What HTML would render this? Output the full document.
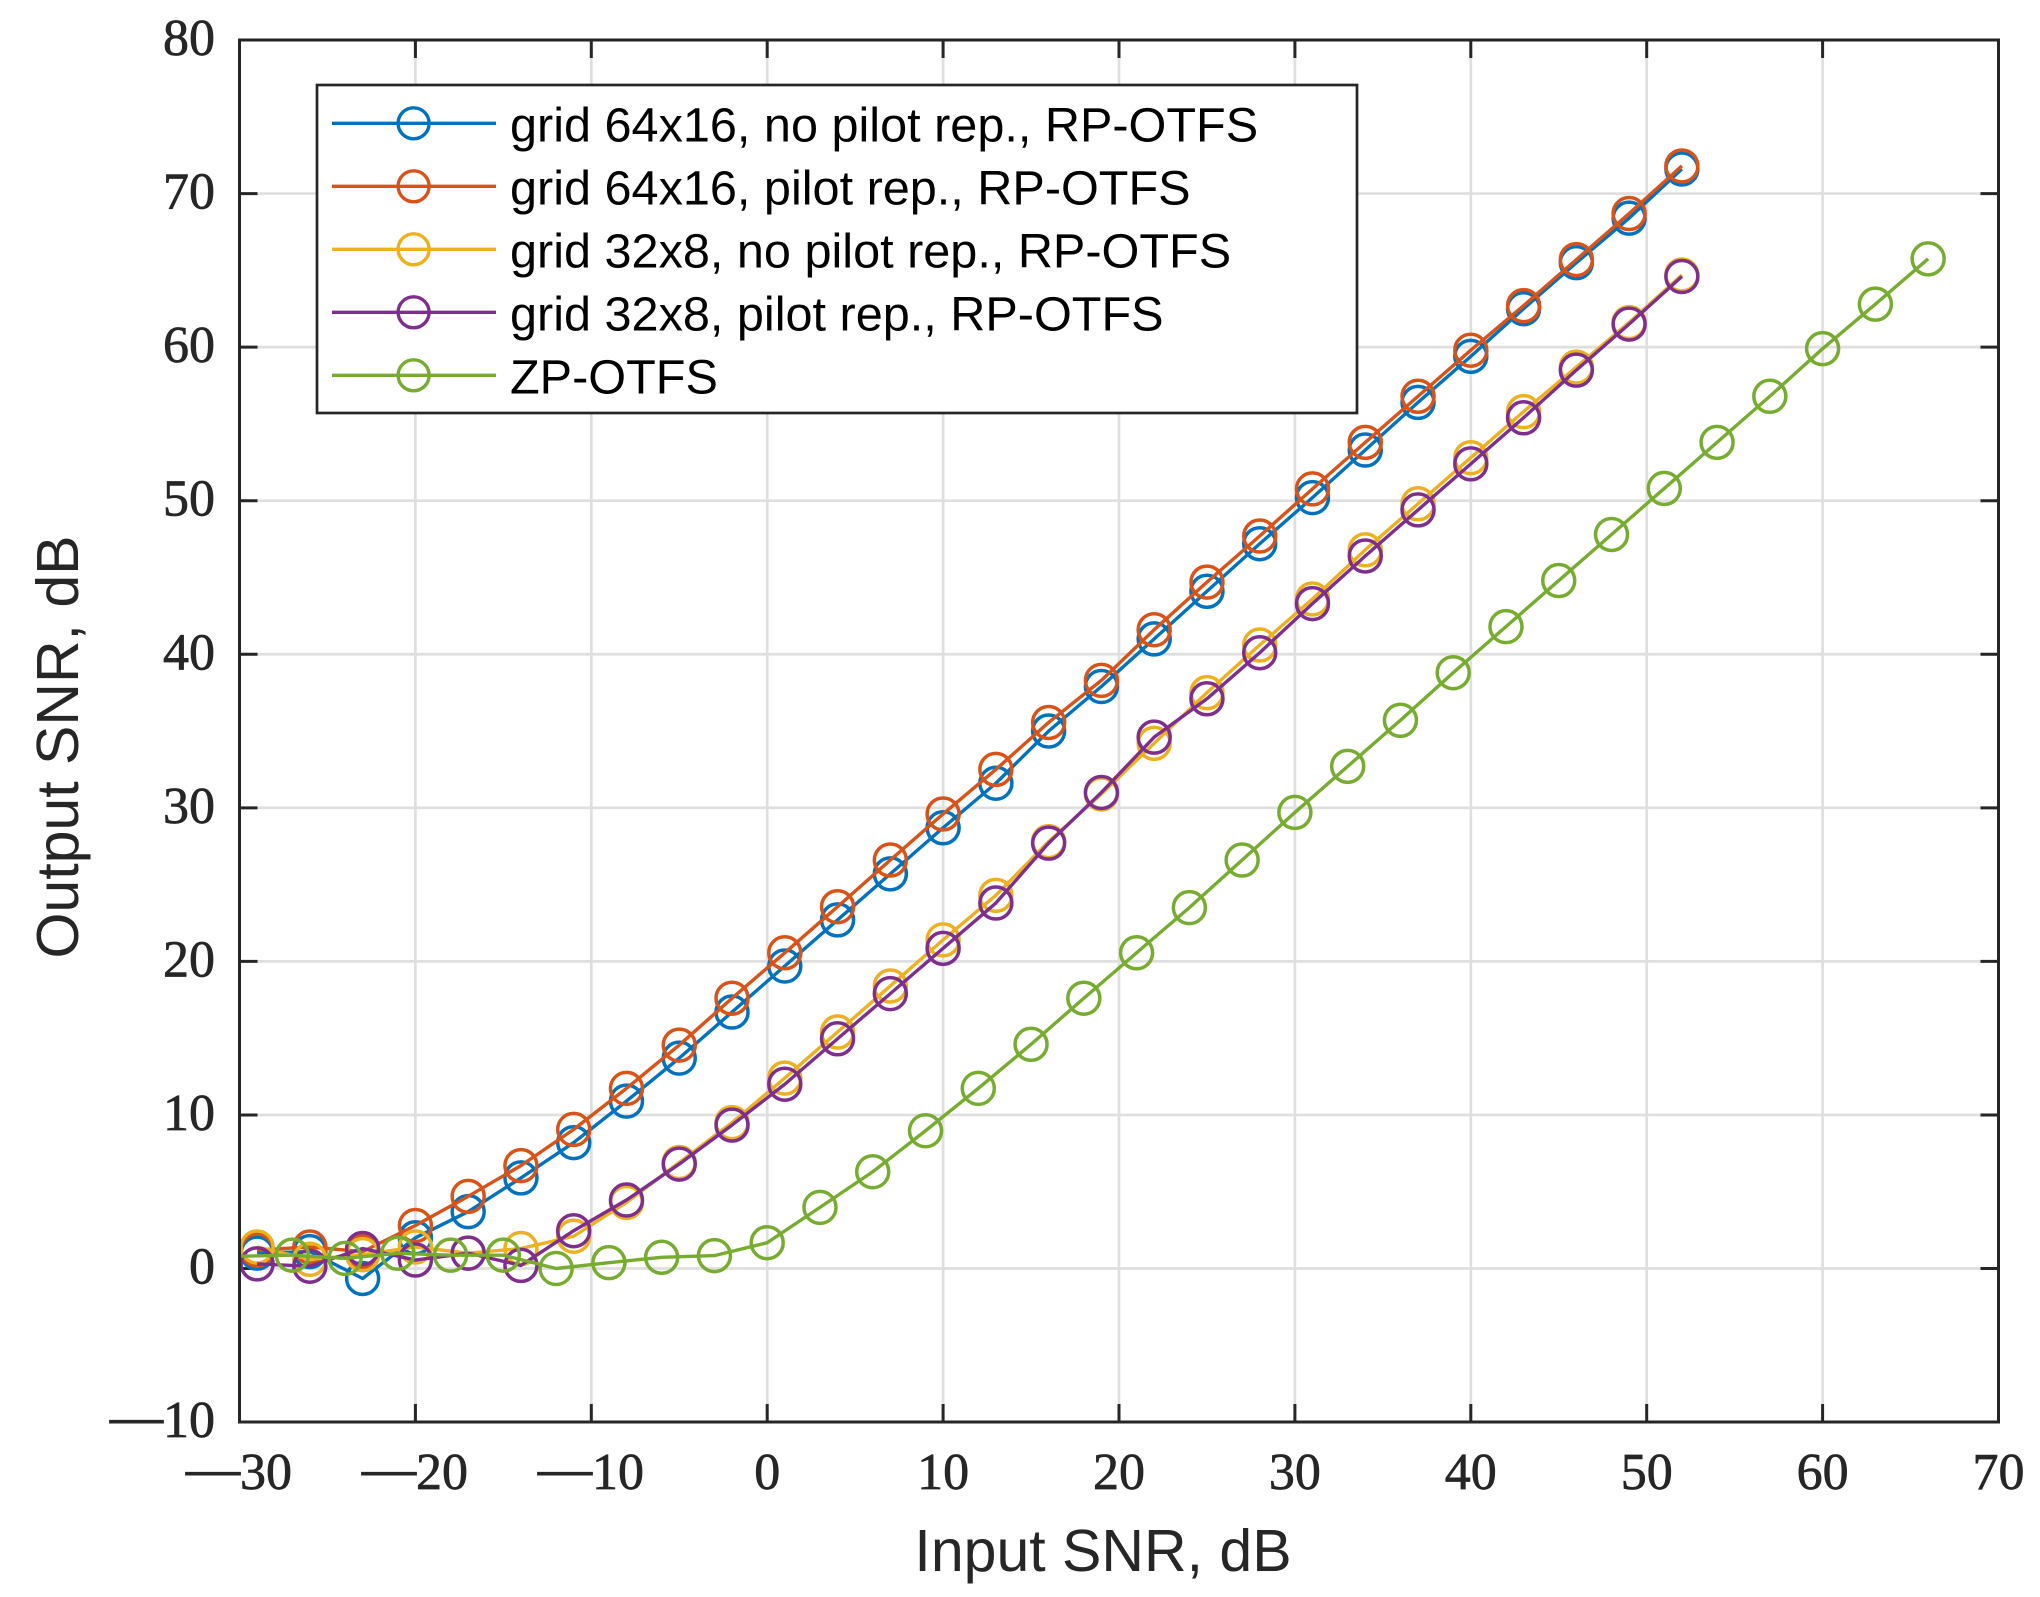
<!DOCTYPE html>
<html>
<head>
<meta charset="utf-8">
<style>
html,body{margin:0;padding:0;background:#fff;}
svg{display:block;}
.tk{font-family:"Liberation Serif",serif;font-size:52px;fill:#262626;stroke:#262626;stroke-width:0.7px;}
.lg{font-family:"Liberation Sans",sans-serif;font-size:48.6px;fill:#000;}
.al{font-family:"Liberation Sans",sans-serif;font-size:59px;fill:#262626;}
</style>
</head>
<body>
<svg width="2040" height="1597" viewBox="0 0 2040 1597" xmlns="http://www.w3.org/2000/svg">
<defs>
<marker id="mb" markerUnits="userSpaceOnUse" markerWidth="40" markerHeight="40" refX="20" refY="20" overflow="visible"><circle cx="20" cy="20" r="16" fill="none" stroke="#0072BD" stroke-width="3.5"/></marker>
<marker id="mr" markerUnits="userSpaceOnUse" markerWidth="40" markerHeight="40" refX="20" refY="20" overflow="visible"><circle cx="20" cy="20" r="16" fill="none" stroke="#D95319" stroke-width="3.5"/></marker>
<marker id="my" markerUnits="userSpaceOnUse" markerWidth="40" markerHeight="40" refX="20" refY="20" overflow="visible"><circle cx="20" cy="20" r="16" fill="none" stroke="#EDB120" stroke-width="3.5"/></marker>
<marker id="mp" markerUnits="userSpaceOnUse" markerWidth="40" markerHeight="40" refX="20" refY="20" overflow="visible"><circle cx="20" cy="20" r="16" fill="none" stroke="#7E2F8E" stroke-width="3.5"/></marker>
<marker id="mg" markerUnits="userSpaceOnUse" markerWidth="40" markerHeight="40" refX="20" refY="20" overflow="visible"><circle cx="20" cy="20" r="16" fill="none" stroke="#77AC30" stroke-width="3.5"/></marker>
<clipPath id="ax"><rect x="239.5" y="40" width="1759" height="1382"/></clipPath>
</defs>
<rect x="0" y="0" width="2040" height="1597" fill="#fff"/>

<!-- grid -->
<g stroke="#dfdfdf" stroke-width="2.7">
<line x1="415.4" y1="40" x2="415.4" y2="1422"/>
<line x1="591.3" y1="40" x2="591.3" y2="1422"/>
<line x1="767.2" y1="40" x2="767.2" y2="1422"/>
<line x1="943.1" y1="40" x2="943.1" y2="1422"/>
<line x1="1119" y1="40" x2="1119" y2="1422"/>
<line x1="1294.9" y1="40" x2="1294.9" y2="1422"/>
<line x1="1470.8" y1="40" x2="1470.8" y2="1422"/>
<line x1="1646.7" y1="40" x2="1646.7" y2="1422"/>
<line x1="1822.6" y1="40" x2="1822.6" y2="1422"/>
<line x1="239.5" y1="193.58" x2="1998.5" y2="193.58"/>
<line x1="239.5" y1="347.14" x2="1998.5" y2="347.14"/>
<line x1="239.5" y1="500.7" x2="1998.5" y2="500.7"/>
<line x1="239.5" y1="654.26" x2="1998.5" y2="654.26"/>
<line x1="239.5" y1="807.82" x2="1998.5" y2="807.82"/>
<line x1="239.5" y1="961.38" x2="1998.5" y2="961.38"/>
<line x1="239.5" y1="1114.94" x2="1998.5" y2="1114.94"/>
<line x1="239.5" y1="1268.5" x2="1998.5" y2="1268.5"/>
</g>

<!-- ticks -->
<g stroke="#262626" stroke-width="3">
<line x1="415.4" y1="1422" x2="415.4" y2="1404"/><line x1="415.4" y1="40" x2="415.4" y2="58"/>
<line x1="591.3" y1="1422" x2="591.3" y2="1404"/><line x1="591.3" y1="40" x2="591.3" y2="58"/>
<line x1="767.2" y1="1422" x2="767.2" y2="1404"/><line x1="767.2" y1="40" x2="767.2" y2="58"/>
<line x1="943.1" y1="1422" x2="943.1" y2="1404"/><line x1="943.1" y1="40" x2="943.1" y2="58"/>
<line x1="1119" y1="1422" x2="1119" y2="1404"/><line x1="1119" y1="40" x2="1119" y2="58"/>
<line x1="1294.9" y1="1422" x2="1294.9" y2="1404"/><line x1="1294.9" y1="40" x2="1294.9" y2="58"/>
<line x1="1470.8" y1="1422" x2="1470.8" y2="1404"/><line x1="1470.8" y1="40" x2="1470.8" y2="58"/>
<line x1="1646.7" y1="1422" x2="1646.7" y2="1404"/><line x1="1646.7" y1="40" x2="1646.7" y2="58"/>
<line x1="1822.6" y1="1422" x2="1822.6" y2="1404"/><line x1="1822.6" y1="40" x2="1822.6" y2="58"/>
<line x1="239.5" y1="193.58" x2="257.5" y2="193.58"/><line x1="1998.5" y1="193.58" x2="1980.5" y2="193.58"/>
<line x1="239.5" y1="347.14" x2="257.5" y2="347.14"/><line x1="1998.5" y1="347.14" x2="1980.5" y2="347.14"/>
<line x1="239.5" y1="500.7" x2="257.5" y2="500.7"/><line x1="1998.5" y1="500.7" x2="1980.5" y2="500.7"/>
<line x1="239.5" y1="654.26" x2="257.5" y2="654.26"/><line x1="1998.5" y1="654.26" x2="1980.5" y2="654.26"/>
<line x1="239.5" y1="807.82" x2="257.5" y2="807.82"/><line x1="1998.5" y1="807.82" x2="1980.5" y2="807.82"/>
<line x1="239.5" y1="961.38" x2="257.5" y2="961.38"/><line x1="1998.5" y1="961.38" x2="1980.5" y2="961.38"/>
<line x1="239.5" y1="1114.94" x2="257.5" y2="1114.94"/><line x1="1998.5" y1="1114.94" x2="1980.5" y2="1114.94"/>
<line x1="239.5" y1="1268.5" x2="257.5" y2="1268.5"/><line x1="1998.5" y1="1268.5" x2="1980.5" y2="1268.5"/>
</g>

<!-- series -->
<g fill="none" stroke-width="3.4" stroke-linejoin="round">
<polyline stroke="#0072BD" marker-start="url(#mb)" marker-mid="url(#mb)" marker-end="url(#mb)" points="257.09,1253.14 309.86,1251.61 362.63,1278.48 415.4,1237.79 468.17,1211.68 520.94,1177.9 573.71,1142.58 626.48,1101.12 679.25,1058.12 732.02,1012.05 784.79,965.99 837.56,919.92 890.33,873.85 943.1,827.78 995.87,783.25 1048.64,731.04 1101.41,686.51 1154.18,638.9 1206.95,591.3 1259.72,543.7 1312.49,497.63 1365.26,450.02 1418.03,402.42 1470.8,356.35 1523.57,308.75 1576.34,262.68 1629.11,218.15 1681.88,169.01"/>
<polyline stroke="#D95319" marker-start="url(#mr)" marker-mid="url(#mr)" marker-end="url(#mr)" points="257.09,1250.07 309.86,1247 362.63,1251.61 415.4,1225.5 468.17,1196.33 520.94,1165.61 573.71,1129.37 626.48,1088.37 679.25,1045.07 732.02,998.23 784.79,952.78 837.56,906.71 890.33,860.03 943.1,813.96 995.87,769.43 1048.64,722.44 1101.41,680.37 1154.18,629.69 1206.95,582.09 1259.72,536.02 1312.49,488.88 1365.26,442.35 1418.03,396.28 1470.8,350.21 1523.57,305.68 1576.34,259.61 1629.11,213.54 1681.88,165.94"/>
<polyline stroke="#EDB120" marker-start="url(#my)" marker-mid="url(#my)" marker-end="url(#my)" points="257.09,1247 309.86,1259.29 362.63,1254.68 415.4,1247 468.17,1253.14 520.94,1248.54 573.71,1236.25 626.48,1202.47 679.25,1162.54 732.02,1122.62 784.79,1078.09 837.56,1032.02 890.33,985.95 943.1,939.88 995.87,895.35 1048.64,841.6 1101.41,794 1154.18,743.32 1206.95,692.65 1259.72,645.05 1312.49,598.98 1365.26,549.84 1418.03,503.77 1470.8,457.7 1523.57,411.64 1576.34,367.1 1629.11,322.57 1681.88,274.97"/>
<polyline stroke="#7E2F8E" marker-start="url(#mp)" marker-mid="url(#mp)" marker-end="url(#mp)" points="257.09,1263.89 309.86,1266.2 362.63,1248.54 415.4,1260.05 468.17,1253.14 520.94,1265.43 573.71,1230.72 626.48,1200.01 679.25,1164.08 732.02,1125.08 784.79,1084.23 837.56,1038.77 890.33,993.63 943.1,948.33 995.87,903.03 1048.64,843.14 1101.41,792.46 1154.18,737.18 1206.95,698.79 1259.72,652.72 1312.49,603.59 1365.26,555.98 1418.03,509.91 1470.8,463.85 1523.57,417.78 1576.34,370.17 1629.11,324.11 1681.88,276.5"/>
<line x1="239.5" y1="1256.2" x2="292.27" y2="1255.14" stroke="#77AC30" clip-path="url(#ax)"/>
<polyline stroke="#77AC30" marker-start="url(#mg)" marker-mid="url(#mg)" marker-end="url(#mg)" points="292.27,1255.14 345.04,1258.37 397.81,1253.3 450.58,1255.14 503.35,1255.14 556.12,1268.5 608.89,1262.66 661.66,1257.29 714.43,1255.6 767.2,1242.7 819.97,1207.38 872.74,1171.76 925.51,1130.76 978.28,1088.37 1031.05,1044.3 1083.82,998.23 1136.59,952.78 1189.36,907.63 1242.13,860.03 1294.9,812.43 1347.67,766.36 1400.44,720.29 1453.21,672.69 1505.98,626.62 1558.75,580.55 1611.52,534.48 1664.29,488.42 1717.06,442.35 1769.83,396.28 1822.6,348.68 1875.37,304.14 1928.14,258.84"/>
</g>

<!-- axes box -->
<rect x="239.5" y="40" width="1759" height="1382" fill="none" stroke="#262626" stroke-width="3"/>

<!-- y tick labels -->
<g class="tk" text-anchor="end">
<text x="215" y="55">80</text>
<text x="215" y="208.6">70</text>
<text x="215" y="362.1">60</text>
<text x="215" y="515.7">50</text>
<text x="215" y="669.3">40</text>
<text x="215" y="822.8">30</text>
<text x="215" y="976.4">20</text>
<text x="215" y="1129.9">10</text>
<text x="215" y="1283.5">0</text>
<text x="215" y="1437">10</text>
</g>
<text class="tk" x="110" y="1434" textLength="53" lengthAdjust="spacingAndGlyphs" style="stroke-width:1px">—</text>

<!-- x tick labels -->
<g class="tk">
<text x="240" y="1489">30</text>
<text x="186" y="1486" textLength="54" lengthAdjust="spacingAndGlyphs" style="stroke-width:1px">—</text>
<text x="416" y="1489">20</text>
<text x="362" y="1486" textLength="54" lengthAdjust="spacingAndGlyphs" style="stroke-width:1px">—</text>
<text x="592" y="1489">10</text>
<text x="538" y="1486" textLength="54" lengthAdjust="spacingAndGlyphs" style="stroke-width:1px">—</text>
</g>
<g class="tk" text-anchor="middle">
<text x="767.2" y="1489">0</text>
<text x="943.1" y="1489">10</text>
<text x="1119" y="1489">20</text>
<text x="1294.9" y="1489">30</text>
<text x="1470.8" y="1489">40</text>
<text x="1646.7" y="1489">50</text>
<text x="1822.6" y="1489">60</text>
<text x="1998.5" y="1489">70</text>
</g>

<!-- axis labels -->
<text class="al" x="1103" y="1571" text-anchor="middle">Input SNR, dB</text>
<text class="al" transform="translate(78,747) rotate(-90)" text-anchor="middle">Output SNR, dB</text>

<!-- legend -->
<rect x="317" y="85" width="1040" height="328" fill="#fff" stroke="#262626" stroke-width="2.7"/>
<g fill="none" stroke-width="3.4">
<line x1="332" y1="123.3" x2="496" y2="123.3" stroke="#0072BD"/><circle cx="413.6" cy="123.3" r="15.5" stroke="#0072BD"/>
<line x1="332" y1="186.3" x2="496" y2="186.3" stroke="#D95319"/><circle cx="413.6" cy="186.3" r="15.5" stroke="#D95319"/>
<line x1="332" y1="249.3" x2="496" y2="249.3" stroke="#EDB120"/><circle cx="413.6" cy="249.3" r="15.5" stroke="#EDB120"/>
<line x1="332" y1="312.3" x2="496" y2="312.3" stroke="#7E2F8E"/><circle cx="413.6" cy="312.3" r="15.5" stroke="#7E2F8E"/>
<line x1="332" y1="375.3" x2="496" y2="375.3" stroke="#77AC30"/><circle cx="413.6" cy="375.3" r="15.5" stroke="#77AC30"/>
</g>
<g class="lg">
<text x="510" y="141.5">grid 64x16, no pilot rep., RP-OTFS</text>
<text x="510" y="204.5">grid 64x16, pilot rep., RP-OTFS</text>
<text x="510" y="267.5">grid 32x8, no pilot rep., RP-OTFS</text>
<text x="510" y="330.5">grid 32x8, pilot rep., RP-OTFS</text>
<text x="510" y="393.5">ZP-OTFS</text>
</g>
</svg>
</body>
</html>
